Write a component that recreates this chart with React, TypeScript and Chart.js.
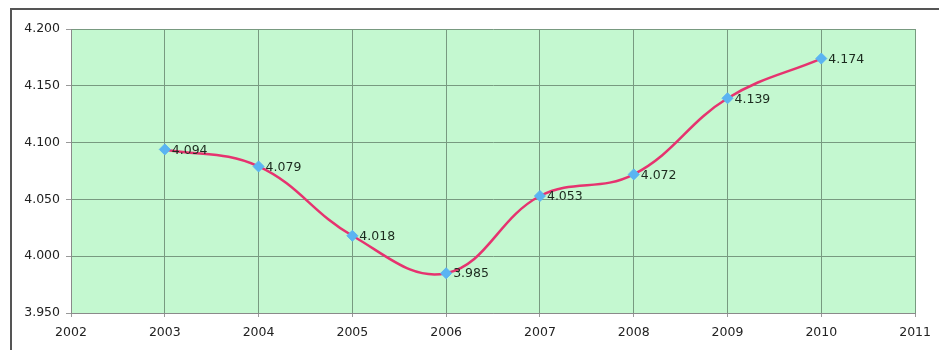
import React, { useEffect, useRef } from "react";
import { Chart, registerables } from "chart.js";

Chart.register(...registerables);

const years = [2003, 2004, 2005, 2006, 2007, 2008, 2009, 2010];
const values = [4.094, 4.079, 4.018, 3.985, 4.053, 4.072, 4.139, 4.174];
const yMin = 3.95;
const yMax = 4.2;
const yStep = 0.05;
const xMin = 2002;
const xMax = 2011;

const FONT = "'DejaVu Sans', Verdana, sans-serif";

const framePlugin = {
  id: "frame",
  afterDraw(chart: any) {
    const ctx = chart.ctx;
    ctx.save();
    ctx.strokeStyle = "#555";
    ctx.lineWidth = 2;
    ctx.beginPath();
    ctx.moveTo(11, 350);
    ctx.lineTo(11, 9);
    ctx.lineTo(939, 9);
    ctx.stroke();
    ctx.restore();
  },
};

const bgPlugin = {
  id: "plotBg",
  beforeDraw(chart: any) {
    const { ctx, chartArea } = chart;
    ctx.save();
    ctx.fillStyle = "#ffffff";
    ctx.fillRect(0, 0, chart.width, chart.height);
    ctx.fillStyle = "#c4f8d0";
    ctx.fillRect(chartArea.left, chartArea.top, chartArea.right - chartArea.left, chartArea.bottom - chartArea.top);
    ctx.restore();
  },
};

const labelPlugin = {
  id: "pointLabels",
  afterDatasetsDraw(chart: any) {
    const ctx = chart.ctx;
    const meta = chart.getDatasetMeta(0);
    ctx.save();
    ctx.font = `12.5px ${FONT}`;
    ctx.fillStyle = "#1c2a1e";
    ctx.textAlign = "left";
    ctx.textBaseline = "middle";
    meta.data.forEach((pt: any, i: number) => {
      ctx.fillText(values[i].toFixed(3), pt.x + 7, pt.y + 1);
    });
    ctx.restore();
  },
};

export default function App() {
  const ref = useRef<HTMLCanvasElement>(null);
  useEffect(() => {
    const chart = new Chart(ref.current!, {
      type: "line",
      data: {
        datasets: [
          {
            data: years.map((y, i) => ({ x: y, y: values[i] })),
            borderColor: "#e6336f",
            borderWidth: 2.5,
            tension: 0.4,
            pointStyle: "rectRot",
            pointRadius: 5.5,
            pointBackgroundColor: "#5ab4f2",
            pointBorderColor: "#5ab4f2",
            pointBorderWidth: 1,
            fill: false,
          },
        ],
      },
      options: {
        responsive: false,
        animation: false,
        layout: { padding: { left: 0, right: 23, top: 29, bottom: 0 } },
        plugins: { legend: { display: false }, tooltip: { enabled: false } },
        scales: {
          x: {
            type: "linear",
            min: xMin,
            max: xMax,
            afterFit: (s: any) => {
              s.height = 37;
            },
            ticks: {
              stepSize: 1,
              padding: 8,
              color: "#222",
              font: { family: FONT, size: 12.5 },
              callback: (v: any) => String(v),
            },
            grid: { color: "#789a80", tickLength: 4, tickColor: "#999" },
            border: { color: "#8a8a8a", width: 1 },
          },
          y: {
            min: yMin,
            max: yMax,
            afterFit: (s: any) => {
              s.width = 71;
            },
            ticks: {
              stepSize: yStep,
              padding: 6,
              color: "#222",
              font: { family: FONT, size: 12.5 },
              callback: (v: any) => Number(v).toFixed(3),
            },
            grid: { color: "#789a80", tickLength: 5, tickColor: "#999" },
            border: { color: "#8a8a8a", width: 1 },
          },
        },
      },
      plugins: [bgPlugin, labelPlugin, framePlugin],
    } as any);
    return () => chart.destroy();
  }, []);
  return (
    <div style={{ position: "fixed", left: 0, top: 0, width: 939, height: 350 }}>
      <canvas ref={ref} width={939} height={350} />
    </div>
  );
}
